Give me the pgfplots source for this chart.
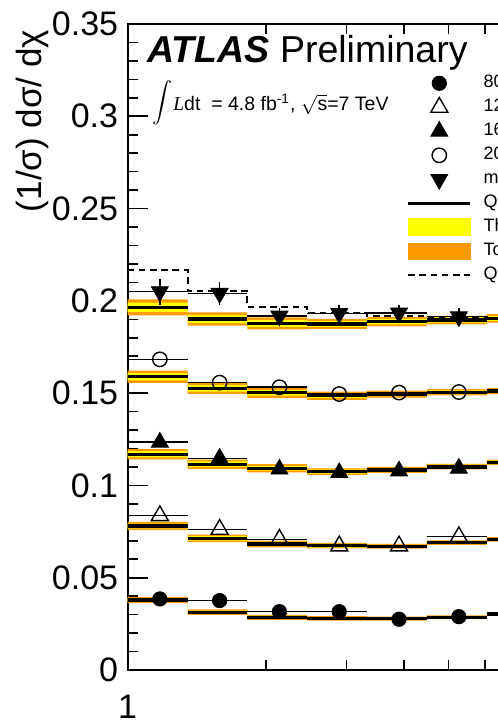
\documentclass[border=0pt]{standalone}
\usepackage{fontspec}
\setmainfont{Liberation Sans}
\newfontfamily\timesfont{Liberation Serif}
\usepackage{pgfplots}
\pgfplotsset{compat=1.18}
\usepackage{pgfplotstable}
\usepgfplotslibrary{fillbetween}

\definecolor{bandyellow}{RGB}{255,255,0}
\definecolor{bandorange}{RGB}{255,153,0}

% chi bins: lower edge, arithmetic centre, normalised data, stat. error,
% QCD prediction, total and theoretical half-widths (offsets included)
\pgfplotstableread{
lo mid data err qcd tot th
1.0000 1.1750 0.0385 0.0015 0.0379 0.0017 0.0010
1.3499 1.5860 0.0376 0.0015 0.0313 0.0015 0.0009
1.8221 2.1409 0.0316 0.0015 0.0285 0.0014 0.0008
2.4596 2.8899 0.0316 0.0015 0.0280 0.0012 0.0007
3.3201 3.9009 0.0275 0.0015 0.0278 0.0011 0.0007
4.4817 5.2657 0.0289 0.0015 0.0286 0.0010 0.0006
6.0496 7.1079 0.0303 0.0015 0.0303 0.0010 0.0006
8.1662 nan    0.0303 0.0015 0.0303 0.0010 0.0006
}\mjjA
\pgfplotstableread{
lo mid data err qcd tot th
1.0000 1.1750 0.0836 0.0020 0.0780 0.0022 0.0013
1.3499 1.5860 0.0762 0.0020 0.0713 0.0020 0.0012
1.8221 2.1409 0.0708 0.0020 0.0683 0.0018 0.0011
2.4596 2.8899 0.0672 0.0020 0.0674 0.0015 0.0009
3.3201 3.9009 0.0672 0.0020 0.0670 0.0013 0.0008
4.4817 5.2657 0.0722 0.0020 0.0690 0.0012 0.0007
6.0496 7.1079 0.0708 0.0020 0.0708 0.0012 0.0007
8.1662 nan    0.0708 0.0020 0.0708 0.0012 0.0007
}\mjjB
\pgfplotstableread{
lo mid data err qcd tot th
1.0000 1.1750 0.1234 0.0025 0.1169 0.0028 0.0017
1.3499 1.5860 0.1147 0.0025 0.1115 0.0025 0.0015
1.8221 2.1409 0.1088 0.0025 0.1093 0.0022 0.0013
2.4596 2.8899 0.1069 0.0025 0.1075 0.0018 0.0011
3.3201 3.9009 0.1078 0.0025 0.1084 0.0016 0.0010
4.4817 5.2657 0.1093 0.0025 0.1102 0.0015 0.0009
6.0496 7.1079 0.1125 0.0025 0.1125 0.0015 0.0009
8.1662 nan    0.1125 0.0025 0.1125 0.0015 0.0009
}\mjjC
\pgfplotstableread{
lo mid data err qcd tot th
1.0000 1.1750 0.1683 0.0030 0.1589 0.0033 0.0020
1.3499 1.5860 0.1557 0.0030 0.1526 0.0030 0.0018
1.8221 2.1409 0.1532 0.0030 0.1502 0.0027 0.0016
2.4596 2.8899 0.1495 0.0030 0.1486 0.0022 0.0013
3.3201 3.9009 0.1503 0.0030 0.1495 0.0019 0.0011
4.4817 5.2657 0.1506 0.0030 0.1505 0.0017 0.0010
6.0496 7.1079 0.1512 0.0030 0.1512 0.0017 0.0010
8.1662 nan    0.1512 0.0030 0.1512 0.0017 0.0010
}\mjjD
\pgfplotstableread{
lo mid data err qcd tot th ci
1.0000 1.1750 0.2050 0.0070 0.1965 0.0043 0.0026 0.2167
1.3499 1.5860 0.2041 0.0062 0.1902 0.0036 0.0022 0.2055
1.8221 2.1409 0.1918 0.0045 0.1878 0.0032 0.0019 0.1968
2.4596 2.8899 0.1932 0.0045 0.1875 0.0027 0.0016 0.1932
3.3201 3.9009 0.1934 0.0045 0.1887 0.0025 0.0015 0.1918
4.4817 5.2657 0.1914 0.0045 0.1896 0.0023 0.0014 0.1911
6.0496 7.1079 0.1905 0.0045 0.1905 0.0023 0.0014 0.1908
8.1662 nan    0.1905 0.0045 0.1905 0.0023 0.0014 0.1908
}\mjjE

% uncertainty bands, QCD prediction and data bin widths for one mass range
\newcommand{\qcdbands}[2]{%
  \addplot[const plot mark left, draw=none, forget plot, name path=#2ou]
    table[x=lo, y expr=\thisrow{qcd}+\thisrow{tot}] {#1};
  \addplot[const plot mark left, draw=none, forget plot, name path=#2ol]
    table[x=lo, y expr=\thisrow{qcd}-\thisrow{tot}] {#1};
  \addplot[fill=bandorange, draw=none, forget plot] fill between[of=#2ou and #2ol];
  \addplot[const plot mark left, draw=none, forget plot, name path=#2yu]
    table[x=lo, y expr=\thisrow{qcd}+\thisrow{th}] {#1};
  \addplot[const plot mark left, draw=none, forget plot, name path=#2yl]
    table[x=lo, y expr=\thisrow{qcd}-\thisrow{th}] {#1};
  \addplot[fill=bandyellow, draw=none, forget plot] fill between[of=#2yu and #2yl];
  \addplot[jump mark left, black, line width=1.6pt, forget plot] table[x=lo, y=qcd] {#1};
  \addplot[jump mark left, black, line width=0.75pt, forget plot] table[x=lo, y=data] {#1};
}

\begin{document}
\begin{tikzpicture}[trim left=-63.85pt, trim right=185.15pt]
\begin{axis}[
  at={(0pt,0pt)}, anchor=south west,
  scale only axis, width=339pt, height=323pt,
  xmode=log, xmin=1, xmax=30, ymin=0, ymax=0.35,
  xtick={1,10}, xticklabels={1,10},
  minor xtick={2,3,4,5,6,7,8,9,20,30},
  ytick={0,0.05,0.1,0.15,0.2,0.25,0.3,0.35},
  yticklabels={0,0.05,0.1,0.15,0.2,0.25,0.3,0.35},
  minor y tick num=4,
  tick align=inside,
  xtick pos=both, ytick pos=both,
  major tick length=10pt, minor tick length=5pt,
  every tick/.style={black, line width=0.8pt},
  axis line style={line width=1pt},
  ticklabel style={font=\fontsize{17}{20}\selectfont},
  yticklabel style={anchor=east, inner sep=0pt, xshift=-4.6pt},
  xticklabel style={anchor=north, inner sep=0pt, yshift=-12.5pt},
  ylabel={(1/σ) dσ/ dχ},
  ylabel style={at={(axis description cs:-0.1264,0.9915)}, anchor=base east,
    inner sep=0pt, font=\fontsize{17.5}{20}\selectfont},
  legend image code/.code={\draw[mark repeat=2,mark phase=2,#1]
    plot coordinates {(0pt,0pt) (15.5pt,0pt) (31pt,0pt)};},
  legend cell align=left,
  legend style={draw=none, fill=none, at={(0.4115,0.92678)}, anchor=north west,
    inner sep=0pt, outer sep=0pt, row sep=0pt, column sep=5.85pt,
    font=\fontsize{9}{10}\selectfont,
    nodes={inner sep=0pt, outer sep=0pt, text height=8pt, text depth=4pt}},
]
\addlegendimage{only marks, mark=*, mark size=3.6pt, black}
\addlegendentry{800 < m\textsubscript{jj} < 1200 GeV}
\addlegendimage{only marks, mark=triangle, mark size=4.9pt, black, line width=0.7pt}
\addlegendentry{1200 < m\textsubscript{jj} < 1600 GeV (+0.04)}
\addlegendimage{only marks, mark=triangle*, mark size=4.9pt, black}
\addlegendentry{1600 < m\textsubscript{jj} < 2000 GeV (+0.08)}
\addlegendimage{only marks, mark=o, mark size=3.6pt, black, line width=0.7pt}
\addlegendentry{2000 < m\textsubscript{jj} < 2600 GeV (+0.12)}
\addlegendimage{only marks, mark=triangle*, mark size=4.9pt, black, mark options={rotate=180}}
\addlegendentry{m\textsubscript{jj} > 2600 GeV (+0.16)}
\addlegendimage{black, line width=1.6pt}
\addlegendentry{QCD Prediction}
\addlegendimage{legend image code/.code={\fill[bandyellow] (0pt,-4.25pt) rectangle (31pt,4.25pt);}}
\addlegendentry{Theoretical uncertainty}
\addlegendimage{legend image code/.code={\fill[bandorange] (0pt,-4.1pt) rectangle (31pt,4.1pt);}}
\addlegendentry{Total uncertainty}
\addlegendimage{black, line width=1pt, dash pattern=on 3.3pt off 2.3pt}
\addlegendentry{QCD+CI, $\Lambda$ = 7.5 TeV}

\qcdbands{\mjjA}{A}
\qcdbands{\mjjB}{B}
\qcdbands{\mjjC}{C}
\qcdbands{\mjjD}{D}
\qcdbands{\mjjE}{E}

% QCD + contact interaction for the highest mass range
\addplot[const plot mark left, black, line width=1pt, dash pattern=on 3.3pt off 2.3pt, forget plot]
  table[x=lo, y=ci] {\mjjE};

% data points
\addplot[only marks, mark=*, mark size=3.6pt, black, forget plot,
  error bars/.cd, y dir=both, y explicit, error mark=none,
  error bar style={line width=0.75pt, black}]
  table[x=mid, y=data, y error=err] {\mjjA};
\addplot[only marks, mark=triangle, mark size=4.9pt, black, line width=0.7pt, forget plot]
  table[x=mid, y=data] {\mjjB};
\addplot[only marks, mark=triangle*, mark size=4.9pt, black, forget plot,
  error bars/.cd, y dir=both, y explicit, error mark=none,
  error bar style={line width=0.75pt, black}]
  table[x=mid, y=data, y error=err] {\mjjC};
\addplot[only marks, mark=o, mark size=3.6pt, black, line width=0.7pt, forget plot]
  table[x=mid, y=data] {\mjjD};
\addplot[only marks, mark=triangle*, mark size=4.9pt, black, mark options={rotate=180}, forget plot,
  error bars/.cd, y dir=both, y explicit, error mark=none,
  error bar style={line width=0.75pt, black}]
  table[x=mid, y=data, y error=err] {\mjjE};
\end{axis}
\node[anchor=base west, inner sep=0pt, font=\fontsize{18.75}{22}\selectfont]
  at (9.65pt,303.5pt) {\textbf{\textit{ATLAS}} Preliminary};
\node[anchor=base west, inner sep=0pt, font=\fontsize{9.75}{11}\selectfont]
  at (12.15pt,279.5pt) {\raisebox{1.5pt}{$\displaystyle\int$}\kern0.5pt{\timesfont\itshape L}dt\ \ = 4.8 fb\textsuperscript{-1}, $\sqrt{\mbox{s}}$=7 TeV};
\path (-63.85pt,-26.5pt) rectangle (185.15pt,335pt);
\end{tikzpicture}
\end{document}
